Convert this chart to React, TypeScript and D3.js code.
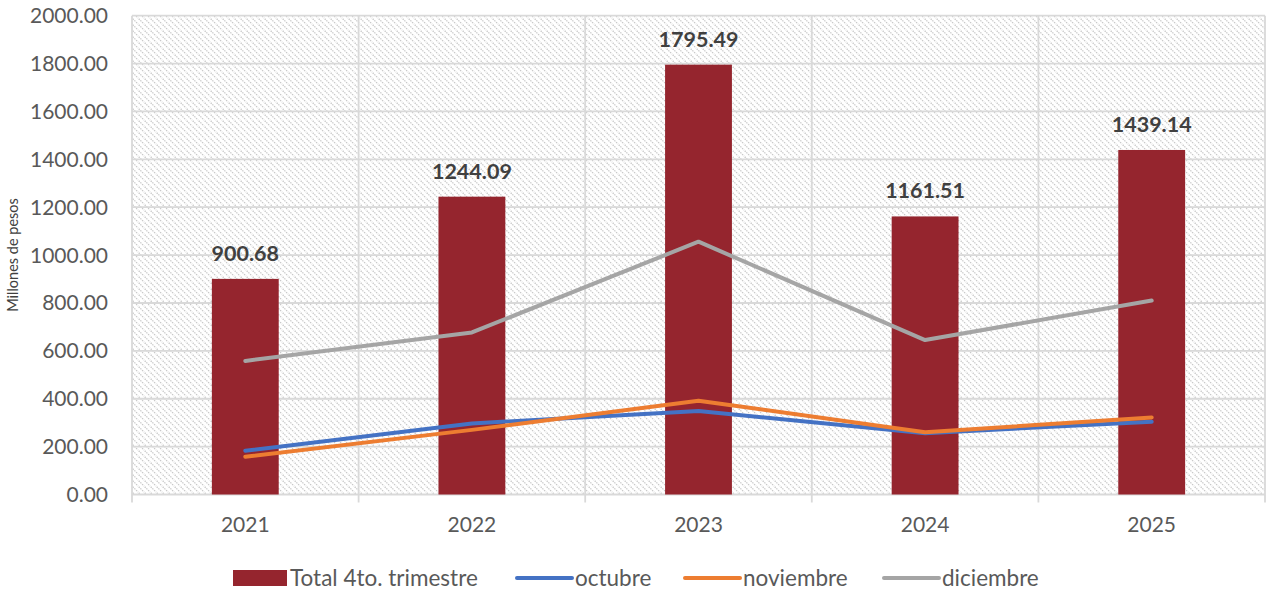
import React from "react";
import * as d3 from "d3";

const years = ["2021", "2022", "2023", "2024", "2025"];
const total = [900.68, 1244.09, 1795.49, 1161.51, 1439.14];
const octubre = [183, 297, 349, 256, 304];
const noviembre = [158, 270, 392, 260, 322];
const diciembre = [558, 677, 1056, 645, 810];
const yTicks = [0, 200, 400, 600, 800, 1000, 1200, 1400, 1600, 1800, 2000];

const W = 1271;
const H = 594;
const L = 132;
const R = 1265;
const T = 15.7;
const B = 494.5;
const FONT = "Lato, 'Open Sans', sans-serif";

export default function App() {
  const x = d3.scaleBand<string>().domain(years).range([L, R]).paddingInner(0).paddingOuter(0);
  const y = d3.scaleLinear().domain([0, 2000]).range([B, T]);
  const bw = x.bandwidth() * 0.295;
  const cx = (i: number) => (x(years[i]) as number) + x.bandwidth() / 2;
  const line = (vals: number[]) =>
    d3.line<number>().x((_, i) => cx(i)).y((v) => y(v))(vals) || "";

  const series = [
    { name: "octubre", vals: octubre, color: "#4472C4" },
    { name: "noviembre", vals: noviembre, color: "#ED7D31" },
    { name: "diciembre", vals: diciembre, color: "#A5A5A5" },
  ];

  const boundaries = years.map((yr) => x(yr) as number).concat([R]);

  return (
    <svg width={W} height={H} style={{ position: "absolute", left: 0, top: 0, background: "#fff" }}>
      <defs>
        <pattern id="hatch" width="6" height="6" patternUnits="userSpaceOnUse">
          <rect width="6" height="6" fill="#ffffff" />
          <path d="M-1,-1 L7,7 M-1,5 L1,7 M5,-1 L7,1" stroke="#c8c8c8" strokeWidth="1.3" strokeDasharray="1.4 1" />
        </pattern>
      </defs>
      <rect x={L} y={T} width={R - L} height={B - T} fill="url(#hatch)" />
      {yTicks.map((t) => (
        <line key={"g" + t} x1={L} x2={R} y1={y(t)} y2={y(t)} stroke="#d9d9d9" strokeWidth={1.8} />
      ))}
      {boundaries.map((bx, i) => (
        <line key={"v" + i} x1={bx} x2={bx} y1={T} y2={B + 8} stroke="#d9d9d9" strokeWidth={1.8} />
      ))}
      {yTicks.map((t) => (
        <text key={"t" + t} x={108} y={y(t) + 7.5} textAnchor="end" fontFamily={FONT} fontSize={21} fill="#595959">
          {t.toFixed(2)}
        </text>
      ))}
      <text
        transform={`translate(18,255) rotate(-90)`}
        textAnchor="middle"
        fontFamily={FONT}
        fontSize={14.5}
        fill="#404040"
      >
        Millones de pesos
      </text>
      {years.map((yr, i) => (
        <rect key={"b" + yr} x={cx(i) - bw / 2} y={y(total[i])} width={bw} height={B - y(total[i])} fill="#95252E" />
      ))}
      {series.map((s) => (
        <path key={s.name} d={line(s.vals)} fill="none" stroke={s.color} strokeWidth={4} strokeLinejoin="round" strokeLinecap="round" />
      ))}
      {years.map((yr, i) => (
        <text key={"l" + yr} x={cx(i)} y={y(total[i]) - 18} textAnchor="middle" fontFamily={FONT} fontWeight="bold" fontSize={21.5} fill="#404040">
          {total[i].toFixed(2)}
        </text>
      ))}
      {years.map((yr, i) => (
        <text key={"x" + yr} x={cx(i)} y={532} textAnchor="middle" fontFamily={FONT} fontSize={21} fill="#595959">
          {yr}
        </text>
      ))}
      <g fontFamily={FONT} fontSize={22.5} fill="#595959">
        <rect x={233} y={570} width={54} height={16} fill="#95252E" />
        <text x={290} y={586}>Total 4to. trimestre</text>
        <line x1={517} x2={572} y1={578} y2={578} stroke="#4472C4" strokeWidth={4} strokeLinecap="round" />
        <text x={575} y={586}>octubre</text>
        <line x1={685} x2={740} y1={578} y2={578} stroke="#ED7D31" strokeWidth={4} strokeLinecap="round" />
        <text x={743} y={586}>noviembre</text>
        <line x1={884} x2={939} y1={578} y2={578} stroke="#A5A5A5" strokeWidth={4} strokeLinecap="round" />
        <text x={942} y={586}>diciembre</text>
      </g>
    </svg>
  );
}
